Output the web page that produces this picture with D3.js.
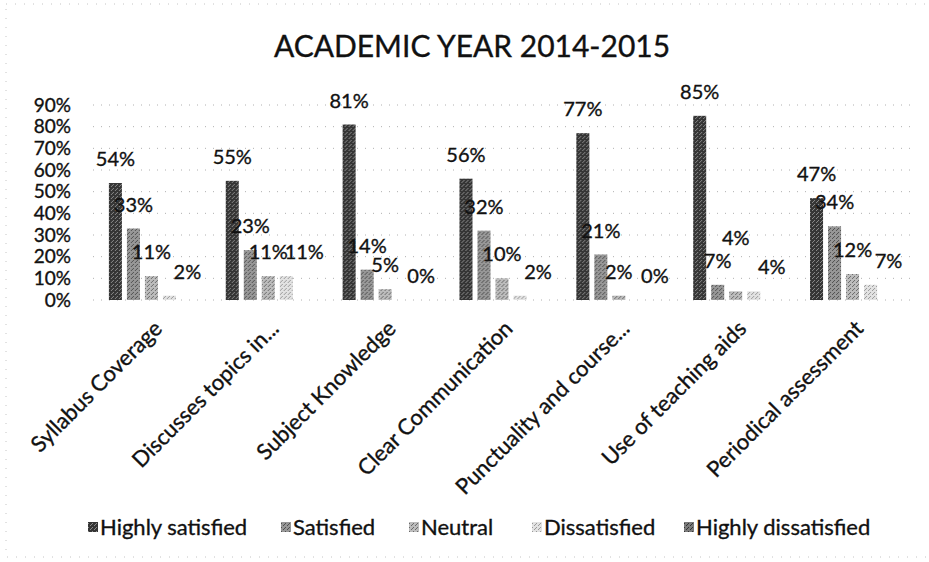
<!DOCTYPE html>
<html>
<head>
<meta charset="utf-8">
<script src="https://cdn.jsdelivr.net/npm/d3@7"></script>
<style>
  body { margin: 0; background: #fff; }
  svg text { font-family: Lato, "Open Sans", sans-serif; fill: #111; stroke: #111; stroke-width: 0.35px; }
</style>
</head>
<body>
<div id="chart"></div>
<script>
// categories and series
var categories = ["Syllabus Coverage", "Discusses topics in...", "Subject Knowledge",
  "Clear Communication", "Punctuality and course...", "Use of teaching aids", "Periodical assessment"];
var seriesNames = ["Highly satisfied", "Satisfied", "Neutral", "Dissatisfied", "Highly dissatisfied"];
var highlySatisfied = [54, 55, 81, 56, 77, 85, 47];
var satisfied = [33, 23, 14, 32, 21, 7, 34];
var neutral = [11, 11, 5, 10, 2, 4, 12];
var dissatisfied = [2, 11, 0, 2, 0, 4, 7];
var highlyDissatisfied = [null, null, null, null, null, null, null];
var yTicks = [0, 10, 20, 30, 40, 50, 60, 70, 80, 90];

var values = [highlySatisfied, satisfied, neutral, dissatisfied, highlyDissatisfied];

var W = 929, H = 562;
var svg = d3.select("#chart").append("svg").attr("width", W).attr("height", H);

// patterns (scanned grey textures)
var defs = svg.append("defs");
var pat = [
  {id: "p0", base: "#353535", dot: "#8a8a8a"},
  {id: "p1", base: "#979797", dot: "#505050"},
  {id: "p2", base: "#bcbcbc", dot: "#6a6a6a"},
  {id: "p3", base: "#e2e2e2", dot: "#9a9a9a"},
  {id: "p4", base: "#7a7a7a", dot: "#333"}
];
pat.forEach(function (p) {
  var g = defs.append("pattern").attr("id", p.id).attr("patternUnits", "userSpaceOnUse")
    .attr("width", 4).attr("height", 4);
  g.append("rect").attr("width", 4).attr("height", 4).attr("fill", p.base);
  g.append("rect").attr("x", 0).attr("y", 0).attr("width", 1).attr("height", 1).attr("fill", p.dot);
  g.append("rect").attr("x", 2).attr("y", 2).attr("width", 1).attr("height", 1).attr("fill", p.dot);
  g.append("rect").attr("x", 3).attr("y", 1).attr("width", 1).attr("height", 1).attr("fill", p.dot);
});

// faint dotted border of the chart area
svg.append("rect").attr("x", 6).attr("y", 4).attr("width", 980).attr("height", 553)
  .attr("fill", "none").attr("stroke", "#c4c4c4").attr("stroke-dasharray", "1 8");

// title
svg.append("text").attr("x", 472).attr("y", 57).attr("text-anchor", "middle")
  .style("font-size", "30px").text("ACADEMIC YEAR 2014-2015");

// scales
var x0 = d3.scaleBand().domain(categories).range([93, 911])
  .paddingInner(0.272).paddingOuter(0.136);
var x1 = d3.scaleBand().domain(seriesNames).range([0, x0.bandwidth()])
  .paddingInner(5 / 18).paddingOuter(0);
var y = d3.scaleLinear().domain([0, 90]).range([300, 105]);

// gridlines
svg.append("g").selectAll("line").data(yTicks).enter().append("line")
  .attr("x1", 93).attr("x2", 911)
  .attr("y1", function (d) { return y(d); }).attr("y2", function (d) { return y(d); })
  .attr("stroke", "#b0b0b0").attr("stroke-dasharray", "1 7");

// y axis labels
var yAxis = svg.append("g").attr("transform", "translate(77,0)")
  .call(d3.axisLeft(y).tickValues(yTicks).tickSize(0).tickPadding(6)
    .tickFormat(function (d) { return d + "%"; }));
yAxis.select(".domain").remove();
yAxis.selectAll("text").style("font-size", "19px").attr("fill", "#111");

// bars
var groups = svg.append("g").selectAll("g").data(categories).enter().append("g")
  .attr("transform", function (d) { return "translate(" + x0(d) + ",0)"; });

seriesNames.forEach(function (s, si) {
  groups.append("rect")
    .filter(function (d, ci) { return values[si][ci] !== null; })
    .attr("x", x1(s))
    .attr("width", x1.bandwidth())
    .attr("y", function (d) { return y(values[si][categories.indexOf(d)]); })
    .attr("height", function (d) { return y(0) - y(values[si][categories.indexOf(d)]); })
    .attr("fill", "url(#" + pat[si].id + ")");
});

// data labels
seriesNames.forEach(function (s, si) {
  var dx = si === 3 ? 18 : 0;
  groups.filter(function (d, ci) { return values[si][ci] !== null; })
    .append("text")
    .attr("class", "dlabel")
    .attr("x", x1(s) + x1.bandwidth() / 2 + dx)
    .attr("y", function (d) { return y(values[si][categories.indexOf(d)]) - 17; })
    .attr("text-anchor", "middle")
    .style("font-size", "20px")
    .text(function (d) { return values[si][categories.indexOf(d)] + "%"; });
});

// push a label up when it runs into the one before it in the same group
groups.each(function () {
  var labels = d3.select(this).selectAll("text.dlabel").nodes();
  for (var i = 1; i < labels.length; i++) {
    var a = labels[i - 1].getBBox(), b = labels[i].getBBox();
    var xOverlap = Math.min(a.x + a.width, b.x + b.width) - Math.max(a.x, b.x);
    var yOverlap = Math.min(a.y + a.height, b.y + b.height) - Math.max(a.y, b.y);
    if (xOverlap > 4 && yOverlap > 8) {
      var yy = +labels[i].getAttribute("y");
      labels[i].setAttribute("y", yy - yOverlap - 12);
    }
  }
});

// category labels, rotated
svg.append("g").selectAll("text").data(categories).enter().append("text")
  .attr("transform", function (d) {
    return "translate(" + (x0(d) + x0.bandwidth() / 2 + 12) + ",330) rotate(-45)";
  })
  .attr("text-anchor", "end")
  .style("font-size", "22px")
  .text(function (d) { return d; });

// legend
var legendX = [88, 281, 409, 532, 684];
var legend = svg.append("g").selectAll("g").data(seriesNames).enter().append("g")
  .attr("transform", function (d, i) { return "translate(" + legendX[i] + ",527)"; });
legend.append("rect").attr("x", 0).attr("y", -5).attr("width", 10).attr("height", 10)
  .attr("fill", function (d, i) { return "url(#" + pat[i].id + ")"; });
legend.append("text").attr("x", 12).attr("y", 8).style("font-size", "22px")
  .text(function (d) { return d; });
</script>
</body>
</html>
